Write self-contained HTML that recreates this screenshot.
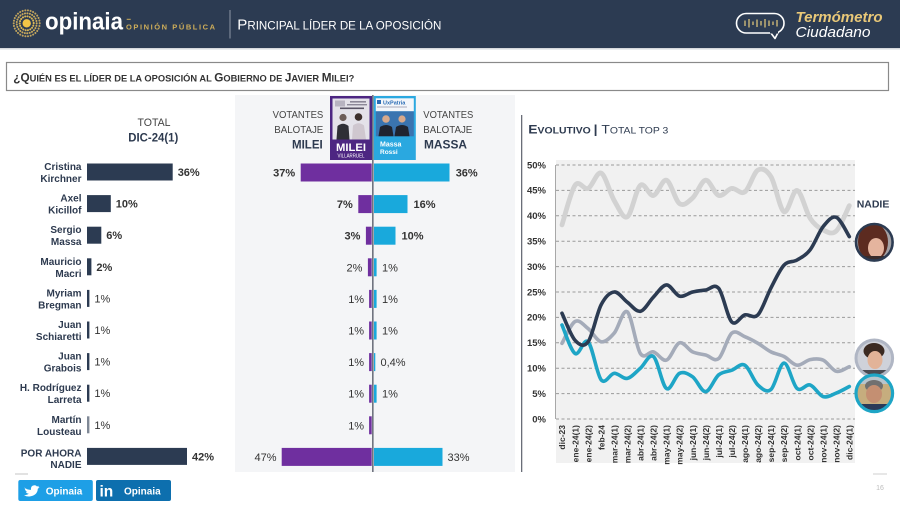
<!DOCTYPE html>
<html><head><meta charset="utf-8">
<style>
html,body{margin:0;padding:0;background:#fff;}
svg{display:block;}
text{font-family:"Liberation Sans",Arial,sans-serif;}
</style></head>
<body>
<svg width="900" height="506" viewBox="0 0 900 506">
<defs>
<clipPath id="cCK"><circle cx="874.3" cy="242.3" r="18"/></clipPath>
<clipPath id="cAK"><circle cx="874.3" cy="358.3" r="18"/></clipPath>
<clipPath id="cSM"><circle cx="874.3" cy="393.3" r="18"/></clipPath>
</defs>
<rect width="900" height="506" fill="#fff"/>
<!-- HEADER -->
<rect x="0" y="0" width="900" height="48" fill="#2c3b52"/>
<rect x="0" y="48" width="900" height="1.5" fill="#d6d8dc"/>
<g>
<circle cx="26.7" cy="23.3" r="13" fill="none" stroke="#bfa35e" stroke-width="2" stroke-dasharray="0.1 2.6" stroke-linecap="round"/>
<circle cx="26.7" cy="23.3" r="10" fill="none" stroke="#c9aa5c" stroke-width="2" stroke-dasharray="0.1 2.4" stroke-linecap="round"/>
<circle cx="26.7" cy="23.3" r="7" fill="none" stroke="#d8b658" stroke-width="2" stroke-dasharray="0.1 2.3" stroke-linecap="round"/>
<circle cx="26.7" cy="23.3" r="4.2" fill="#f2c547"/>
</g>
<text x="45" y="29.3" font-size="24" font-weight="bold" fill="#fff" textLength="78" lengthAdjust="spacingAndGlyphs">opinaia</text>
<rect x="126.7" y="18.8" width="4" height="1" fill="#cfae5a"/>
<text x="126" y="29.3" font-size="7.5" font-weight="bold" fill="#cfae5a" textLength="89" lengthAdjust="spacing">OPINIÓN PÚBLICA</text>
<rect x="229.5" y="10" width="1" height="28.5" fill="#8e97a6"/>
<text x="237.3" y="29.3" fill="#fff" textLength="204" lengthAdjust="spacingAndGlyphs"><tspan font-size="15">P</tspan><tspan font-size="11.5">RINCIPAL LÍDER DE LA OPOSICIÓN</tspan></text>
<!-- termometro -->
<rect x="736.5" y="13.5" width="47.5" height="19.5" rx="9.7" fill="none" stroke="#fff" stroke-width="1.6"/>
<path d="M770.5,32.5 L775,38.5 L778.5,31.8" fill="#2c3b52" stroke="#fff" stroke-width="1.6" stroke-linejoin="round"/>
<rect x="770" y="31" width="8" height="2.5" fill="#2c3b52"/>
<g stroke="#d9c27a" stroke-width="1.3">
<line x1="745" y1="20.5" x2="745" y2="26"/>
<line x1="749" y1="19" x2="749" y2="27.5"/>
<line x1="753" y1="21.5" x2="753" y2="25"/>
<line x1="757" y1="19.5" x2="757" y2="27"/>
<line x1="761" y1="21" x2="761" y2="25.5"/>
<line x1="765" y1="19" x2="765" y2="27.5"/>
<line x1="769" y1="20.5" x2="769" y2="26"/>
<line x1="773" y1="21.5" x2="773" y2="25"/>
<line x1="777" y1="20" x2="777" y2="26.5"/>
</g>
<text x="795.5" y="22" font-size="14.5" font-weight="bold" font-style="italic" fill="#e9c878" textLength="87" lengthAdjust="spacingAndGlyphs">Termómetro</text>
<text x="795.5" y="37" font-size="14.5" font-style="italic" fill="#fff" textLength="75" lengthAdjust="spacingAndGlyphs">Ciudadano</text>

<!-- QUESTION BOX -->
<rect x="6.5" y="62.5" width="882" height="28" fill="#fff" stroke="#8a8a8a" stroke-width="1.2"/>
<text x="13.3" y="81.5" font-weight="bold" fill="#333" textLength="341" lengthAdjust="spacingAndGlyphs"><tspan font-size="12">¿Q</tspan><tspan font-size="9.5">UIÉN ES EL LÍDER DE LA OPOSICIÓN AL </tspan><tspan font-size="12">G</tspan><tspan font-size="9.5">OBIERNO DE </tspan><tspan font-size="12">J</tspan><tspan font-size="9.5">AVIER </tspan><tspan font-size="12">M</tspan><tspan font-size="9.5">ILEI?</tspan></text>

<!-- LEFT PANEL -->
<text x="154" y="126" font-size="11" fill="#444" text-anchor="middle" textLength="33" lengthAdjust="spacingAndGlyphs">TOTAL</text>
<text x="153.3" y="141.7" font-size="11.5" font-weight="bold" fill="#2d3a4f" text-anchor="middle" textLength="50" lengthAdjust="spacingAndGlyphs">DIC-24(1)</text>

<g font-size="10" font-weight="bold" fill="#2d3a4f" text-anchor="end">
<text x="81.5" y="170">Cristina</text><text x="81.5" y="182">Kirchner</text>
<text x="81.5" y="201.6">Axel</text><text x="81.5" y="213.6">Kicillof</text>
<text x="81.5" y="233.2">Sergio</text><text x="81.5" y="245.2">Massa</text>
<text x="81.5" y="264.8">Mauricio</text><text x="81.5" y="276.8">Macri</text>
<text x="81.5" y="296.4">Myriam</text><text x="81.5" y="308.4">Bregman</text>
<text x="81.5" y="328">Juan</text><text x="81.5" y="340">Schiaretti</text>
<text x="81.5" y="359.6">Juan</text><text x="81.5" y="371.6">Grabois</text>
<text x="81.5" y="391.2">H. Rodríguez</text><text x="81.5" y="403.2">Larreta</text>
<text x="81.5" y="422.8">Martín</text><text x="81.5" y="434.8">Lousteau</text>
<text x="81.5" y="456.5">POR AHORA</text><text x="81.5" y="468">NADIE</text>
</g>
<g fill="#2c3b52">
<rect x="87" y="163.5" width="85.7" height="17"/>
<rect x="87" y="195.1" width="23.8" height="17"/>
<rect x="87" y="226.7" width="14.3" height="17"/>
<rect x="87" y="258.3" width="4.4" height="17"/>
<rect x="87" y="289.9" width="2.4" height="17"/>
<rect x="87" y="321.5" width="2.4" height="17"/>
<rect x="87" y="353.1" width="2.4" height="17"/>
<rect x="87" y="384.7" width="2.4" height="17"/>
<rect x="87" y="416.3" width="2.4" height="17" fill="#7f8896"/>
<rect x="87" y="447.9" width="100" height="17"/>
</g>
<g font-size="11" fill="#333">
<text x="177.7" y="176" font-weight="bold">36%</text>
<text x="115.8" y="207.6" font-weight="bold">10%</text>
<text x="106.3" y="239.2" font-weight="bold">6%</text>
<text x="96.4" y="270.8" font-weight="bold">2%</text>
<text x="94.4" y="302.4">1%</text>
<text x="94.4" y="334">1%</text>
<text x="94.4" y="365.6">1%</text>
<text x="94.4" y="397.2">1%</text>
<text x="94.4" y="428.8">1%</text>
<text x="192" y="460.4" font-weight="bold">42%</text>
</g>

<!-- MIDDLE PANEL -->
<rect x="235" y="95" width="280" height="377" fill="#f4f5f7"/>
<g font-size="10.5" fill="#444">
<text x="323.3" y="118" text-anchor="end" textLength="50.7" lengthAdjust="spacingAndGlyphs">VOTANTES</text>
<text x="323.3" y="133" text-anchor="end" textLength="49" lengthAdjust="spacingAndGlyphs">BALOTAJE</text>
<text x="423.3" y="118" textLength="50" lengthAdjust="spacingAndGlyphs">VOTANTES</text>
<text x="423.3" y="133" textLength="49" lengthAdjust="spacingAndGlyphs">BALOTAJE</text>
</g>
<text x="322.7" y="148.7" font-size="12" font-weight="bold" fill="#2d3a4f" text-anchor="end" textLength="30.7" lengthAdjust="spacingAndGlyphs">MILEI</text>
<text x="424" y="148.7" font-size="12" font-weight="bold" fill="#2d3a4f" textLength="43" lengthAdjust="spacingAndGlyphs">MASSA</text>

<!-- Milei ballot -->
<rect x="330" y="96" width="42" height="64" fill="#4d2682"/>
<rect x="332.5" y="98.5" width="37" height="41" fill="#e4e2e9"/>
<rect x="335" y="100.5" width="10" height="6" fill="#b7b3c0"/>
<rect x="350" y="101" width="16" height="1.6" fill="#8c8898"/>
<rect x="347" y="104" width="20" height="1.4" fill="#8c8898"/>
<rect x="340" y="107.5" width="24" height="1.6" fill="#5a5566"/>
<circle cx="343" cy="117.5" r="3.6" fill="#6d5d58"/>
<path d="M336.5,139.5 L337.5,126 Q343,121.5 348.5,126 L349.5,139.5 Z" fill="#2f2f36"/>
<circle cx="358.5" cy="117" r="3.8" fill="#3d302c"/>
<path d="M352,139.5 L353,125.5 Q358.5,121 364,125.5 L366,139.5 Z" fill="#cfc7cf"/>
<text x="351" y="151" font-size="11" font-weight="bold" fill="#fff" text-anchor="middle" textLength="30" lengthAdjust="spacingAndGlyphs">MILEI</text>
<text x="351" y="157.3" font-size="5" fill="#fff" text-anchor="middle" textLength="27" lengthAdjust="spacingAndGlyphs">VILLARRUEL</text>

<!-- Massa ballot -->
<rect x="373.8" y="96" width="42" height="64" fill="#2aa8e0"/>
<rect x="375.8" y="98.3" width="38" height="13" fill="#f3f6fa"/>
<rect x="377" y="100" width="4" height="4" fill="#2a6cb5"/>
<text x="383" y="104.5" font-size="5.5" font-weight="bold" fill="#2a6cb5">UxPatria</text>
<rect x="377" y="106.5" width="30" height="1" fill="#aab"/>
<rect x="375.8" y="111.3" width="38" height="25" fill="#3a74b0"/>
<circle cx="386" cy="119" r="3.8" fill="#d7a98c"/>
<circle cx="402" cy="119" r="3.6" fill="#d7a98c"/>
<path d="M378.5,136.3 L380,127 Q386,123 392,127 L393.5,136.3 Z" fill="#1f2430"/>
<path d="M394.5,136.3 L396,127 Q402,123 408,127 L409.5,136.3 Z" fill="#1f2430"/>
<text x="380" y="146.5" font-size="7" font-weight="bold" fill="#fff">Massa</text>
<text x="380" y="154" font-size="6.5" font-weight="bold" fill="#fff">Rossi</text>

<!-- center axis -->
<rect x="372.2" y="95" width="1.3" height="377" fill="#505563"/>

<g fill="#6f2f9f">
<rect x="300.7" y="163.5" width="71" height="18"/>
<rect x="358.3" y="195.1" width="13.4" height="18"/>
<rect x="365.9" y="226.7" width="5.8" height="18"/>
<rect x="367.9" y="258.3" width="3.8" height="18"/>
<rect x="369.1" y="289.9" width="2.6" height="18"/>
<rect x="369.1" y="321.5" width="2.6" height="18"/>
<rect x="369.1" y="353.1" width="2.6" height="18"/>
<rect x="369.1" y="384.7" width="2.6" height="18"/>
<rect x="369.1" y="416.3" width="2.6" height="18"/>
<rect x="281.7" y="447.9" width="90" height="18"/>
</g>
<g fill="#19a9dc">
<rect x="374" y="163.5" width="75.5" height="18"/>
<rect x="374" y="195.1" width="33.5" height="18"/>
<rect x="374" y="226.7" width="21.5" height="18"/>
<rect x="374" y="258.3" width="2.6" height="18"/>
<rect x="374" y="289.9" width="2.6" height="18"/>
<rect x="374" y="321.5" width="2.6" height="18"/>
<rect x="374" y="353.1" width="1.3" height="18"/>
<rect x="374" y="384.7" width="2.6" height="18"/>
<rect x="374" y="447.9" width="68.5" height="18"/>
</g>
<g font-size="11" fill="#333" text-anchor="end">
<text x="295.2" y="176.5" font-weight="bold">37%</text>
<text x="352.8" y="208.1" font-weight="bold">7%</text>
<text x="360.4" y="239.7" font-weight="bold">3%</text>
<text x="362.4" y="271.3">2%</text>
<text x="364.1" y="302.9">1%</text>
<text x="364.1" y="334.5">1%</text>
<text x="364.1" y="366.1">1%</text>
<text x="364.1" y="397.7">1%</text>
<text x="364.1" y="429.3">1%</text>
<text x="276.5" y="460.9">47%</text>
</g>
<g font-size="11" fill="#333">
<text x="455.7" y="176.5" font-weight="bold">36%</text>
<text x="413.5" y="208.1" font-weight="bold">16%</text>
<text x="401.5" y="239.7" font-weight="bold">10%</text>
<text x="382" y="271.3">1%</text>
<text x="382" y="302.9">1%</text>
<text x="382" y="334.5">1%</text>
<text x="380.5" y="366.1">0,4%</text>
<text x="382" y="397.7">1%</text>
<text x="447.5" y="460.9">33%</text>
</g>

<!-- RIGHT PANEL -->
<rect x="521" y="115" width="1.3" height="357" fill="#6a6e78"/>
<text x="528.3" y="133.3" fill="#2d3a4f" textLength="140" lengthAdjust="spacingAndGlyphs"><tspan font-size="12" font-weight="bold">E</tspan><tspan font-size="9" font-weight="bold">VOLUTIVO </tspan><tspan font-size="12" font-weight="bold">| </tspan><tspan font-size="12">T</tspan><tspan font-size="9">OTAL TOP 3</tspan></text>

<rect x="556" y="160" width="299" height="303" fill="#f1f1f1"/>
<g stroke="#9a9a9a" stroke-width="1" stroke-dasharray="3 2.5">
<line x1="556" y1="165" x2="855" y2="165"/>
<line x1="556" y1="190.4" x2="855" y2="190.4"/>
<line x1="556" y1="215.8" x2="855" y2="215.8"/>
<line x1="556" y1="241.2" x2="855" y2="241.2"/>
<line x1="556" y1="266.6" x2="855" y2="266.6"/>
<line x1="556" y1="292" x2="855" y2="292"/>
<line x1="556" y1="317.4" x2="855" y2="317.4"/>
<line x1="556" y1="342.8" x2="855" y2="342.8"/>
<line x1="556" y1="368.2" x2="855" y2="368.2"/>
<line x1="556" y1="393.6" x2="855" y2="393.6"/>
<line x1="556" y1="419" x2="855" y2="419"/>
</g>
<rect x="555" y="165" width="1" height="254" fill="#a8a8a8"/>
<g font-size="9.5" font-weight="bold" fill="#333" text-anchor="end">
<text x="546" y="168.3">50%</text>
<text x="546" y="193.7">45%</text>
<text x="546" y="219.1">40%</text>
<text x="546" y="244.5">35%</text>
<text x="546" y="269.9">30%</text>
<text x="546" y="295.3">25%</text>
<text x="546" y="320.7">20%</text>
<text x="546" y="346.1">15%</text>
<text x="546" y="371.5">10%</text>
<text x="546" y="396.9">5%</text>
<text x="546" y="422.3">0%</text>
</g>
<g font-size="8.5" font-weight="bold" fill="#333" text-anchor="end">
<text transform="translate(565.2,425) rotate(-90)">dic-23</text>
<text transform="translate(578.3,425) rotate(-90)">ene-24(1)</text>
<text transform="translate(591.3,425) rotate(-90)">ene-24(2)</text>
<text transform="translate(604.4,425) rotate(-90)">feb-24</text>
<text transform="translate(617.4,425) rotate(-90)">mar-24(1)</text>
<text transform="translate(630.5,425) rotate(-90)">mar-24(2)</text>
<text transform="translate(643.6,425) rotate(-90)">abr-24(1)</text>
<text transform="translate(656.6,425) rotate(-90)">abr-24(2)</text>
<text transform="translate(669.7,425) rotate(-90)">may-24(1)</text>
<text transform="translate(682.7,425) rotate(-90)">may-24(2)</text>
<text transform="translate(695.8,425) rotate(-90)">jun-24(1)</text>
<text transform="translate(708.9,425) rotate(-90)">jun-24(2)</text>
<text transform="translate(721.9,425) rotate(-90)">jul-24(1)</text>
<text transform="translate(735,425) rotate(-90)">jul-24(2)</text>
<text transform="translate(748,425) rotate(-90)">ago-24(1)</text>
<text transform="translate(761.1,425) rotate(-90)">ago-24(2)</text>
<text transform="translate(774.2,425) rotate(-90)">sep-24(1)</text>
<text transform="translate(787.2,425) rotate(-90)">sep-24(2)</text>
<text transform="translate(800.3,425) rotate(-90)">oct-24(1)</text>
<text transform="translate(813.3,425) rotate(-90)">oct-24(2)</text>
<text transform="translate(826.4,425) rotate(-90)">nov-24(1)</text>
<text transform="translate(839.5,425) rotate(-90)">nov-24(2)</text>
<text transform="translate(852.5,425) rotate(-90)">dic-24(1)</text>
</g>

<g id="series" fill="none" stroke-linecap="round" stroke-linejoin="round">
<polyline class="s" stroke="#d2d2d2" stroke-width="4.8" points="562,224.9 575.06,185.3 588.12,188.4 601.18,173.1 614.24,200.6 627.3,216.8 640.36,185.3 653.42,195.5 666.48,180.2 679.54,203.6 692.6,198 705.66,180.2 718.72,195.5 731.78,188.4 744.84,191.9 757.9,170.1 770.96,176.7 784.02,211.7 797.08,190.4 810.14,218.3 823.2,230 836.26,231 849.32,205.6"/>
<polyline class="s" stroke="#a4abb9" stroke-width="3.6" points="562,343.3 575.06,321.5 588.12,328.6 601.18,341.8 614.24,333.1 627.3,311.8 640.36,353.5 653.42,351.9 666.48,360.1 679.54,342.8 692.6,351.9 705.66,355 718.72,358.5 731.78,333.1 744.84,336.7 757.9,343.3 770.96,351.9 784.02,356.5 797.08,365.2 810.14,359.6 823.2,360.1 836.26,371.3 849.32,366.7"/>
<polyline class="s" stroke="#1ea5c6" stroke-width="3.6" points="562,325 575.06,353.5 588.12,341.8 601.18,379.9 614.24,373.3 627.3,378.4 640.36,368.2 653.42,356.5 666.48,388.5 679.54,373.3 692.6,376.8 705.66,391.6 718.72,374.8 731.78,370.2 744.84,365.2 757.9,385 770.96,389.5 784.02,363.1 797.08,388.5 810.14,385 823.2,396.6 836.26,393.1 849.32,386.5"/>
<polyline class="s" stroke="#2c3b52" stroke-width="3.6" points="562,313.3 575.06,340.3 588.12,341.8 601.18,304.7 614.24,292 627.3,302.2 640.36,311.3 653.42,297.1 666.48,284.9 679.54,296.1 692.6,292 705.66,290 718.72,288.4 731.78,322 744.84,314.9 757.9,314.9 770.96,287.9 784.02,265.1 797.08,260 810.14,249.8 823.2,226.5 836.26,217.3 849.32,236.6"/>
</g>

<text x="856.7" y="207.7" font-size="10.5" font-weight="bold" fill="#2d3a4f">NADIE</text>

<!-- photos -->
<g clip-path="url(#cCK)">
<rect x="855" y="223" width="40" height="40" fill="#a3a1a4"/>
<ellipse cx="873" cy="242" rx="15" ry="19" fill="#5c2b20"/>
<ellipse cx="876" cy="248" rx="8" ry="10" fill="#e4b49e"/>
<rect x="860" y="256" width="30" height="8" fill="#3a2c2c"/>
</g>
<circle cx="874.3" cy="242.3" r="18.3" fill="none" stroke="#2c3b52" stroke-width="2.6"/>

<g clip-path="url(#cAK)">
<rect x="855" y="339" width="40" height="40" fill="#cfd2da"/>
<ellipse cx="874" cy="351" rx="10.5" ry="8" fill="#3b2a22"/>
<ellipse cx="875" cy="360" rx="7.5" ry="9" fill="#e2b398"/>
<rect x="862" y="370" width="26" height="8" fill="#4a4a52"/>
</g>
<circle cx="874.3" cy="358.3" r="18.3" fill="none" stroke="#b0b6c4" stroke-width="3"/>

<g clip-path="url(#cSM)">
<rect x="855" y="374" width="40" height="40" fill="#c6ad7e"/>
<rect x="855" y="374" width="40" height="10" fill="#b8c4cc"/>
<ellipse cx="874" cy="386" rx="9" ry="6" fill="#707070"/>
<ellipse cx="874" cy="394" rx="8" ry="9" fill="#c48f72"/>
<rect x="860" y="404" width="30" height="10" fill="#2b3a58"/>
</g>
<circle cx="874.3" cy="393.3" r="18.3" fill="none" stroke="#1ea5c6" stroke-width="3.2"/>

<!-- FOOTER -->
<rect x="15" y="473.5" width="13" height="1" fill="#c4c4c4"/>
<rect x="18.3" y="480" width="74.5" height="21" rx="2" fill="#1e9fe6"/>
<path d="M24.5,487.5 Q27,490 31,489.8 Q30.5,485.5 34.5,485.3 Q36,485.3 37,486.5 L39,485.8 L38,487.3 L39.5,487 Q38.8,488.3 37.8,488.8 Q37.5,495.5 29.5,496.5 Q26.5,496.7 24,495.2 Q27,495.2 28.8,493.8 Q26.5,493.5 25.8,491.8 L27.3,491.7 Q25,490.8 24.8,488.8 L26.2,489.3 Q24.3,488.3 24.5,487.5 Z" fill="#fff"/>
<text x="45.7" y="494.3" font-size="10" font-weight="bold" fill="#fff">Opinaia</text>
<rect x="96" y="480" width="75" height="21" rx="2" fill="#0d6fae"/>
<text x="99.5" y="496.5" font-size="15.5" font-weight="bold" fill="#fff">in</text>
<text x="124" y="494.3" font-size="10" font-weight="bold" fill="#fff">Opinaia</text>
<rect x="873" y="473.5" width="14" height="1" fill="#cfcfcf"/>
<text x="880" y="490" font-size="7" fill="#bdbdbd" text-anchor="middle">16</text>
</svg>
<script>
(function(){
  var pls = document.querySelectorAll('polyline.s');
  for (var k=0;k<pls.length;k++){
    var pl = pls[k];
    var pts = pl.getAttribute('points').trim().split(/\s+/).map(function(p){return p.split(',').map(Number);});
    var d = 'M'+pts[0][0]+','+pts[0][1];
    for (var i=0;i<pts.length-1;i++){
      var p0=pts[i-1]||pts[i], p1=pts[i], p2=pts[i+1], p3=pts[i+2]||p2;
      var c1x=p1[0]+(p2[0]-p0[0])/6, c1y=p1[1]+(p2[1]-p0[1])/6;
      var c2x=p2[0]-(p3[0]-p1[0])/6, c2y=p2[1]-(p3[1]-p1[1])/6;
      d+=' C'+c1x.toFixed(2)+','+c1y.toFixed(2)+' '+c2x.toFixed(2)+','+c2y.toFixed(2)+' '+p2[0]+','+p2[1];
    }
    pl.outerHTML = '<path d="'+d+'" fill="none" stroke="'+pl.getAttribute('stroke')+'" stroke-width="'+pl.getAttribute('stroke-width')+'" stroke-linecap="round" stroke-linejoin="round"></path>';
  }
})();
</script>
</body></html>
